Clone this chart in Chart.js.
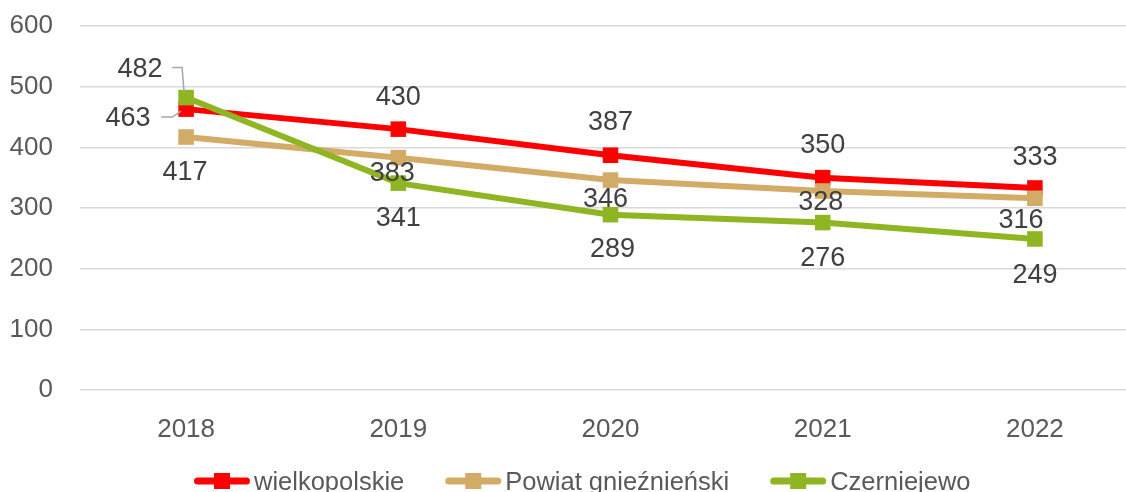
<!DOCTYPE html>
<html lang="pl">
<head>
    <meta charset="UTF-8">
    <title>Wykres</title>
    <script src="https://cdn.jsdelivr.net/npm/chart.js"></script>
    <style>
        html, body { margin: 0; padding: 0; overflow: hidden; background: #fff; }
        #wrap { width: 1152px; height: 492px; position: relative; }
    </style>
</head>
<body>
<div id="wrap"><canvas id="wykres"></canvas></div>

<script>
    // dane
    const lata = ['2018', '2019', '2020', '2021', '2022'];
    const wielkopolskie = [463, 430, 387, 350, 333];
    const powiatGnieznienski = [417, 383, 346, 328, 316];
    const czerniejewo = [482, 341, 289, 276, 249];
    const nazwySerii = ['wielkopolskie', 'Powiat gnieźnieński', 'Czerniejewo'];
    const yMin = 0, yMax = 600, yKrok = 100;

    const kolory = ['#FF0000', '#D2AB66', '#8FB523'];
    const czcionka = '"Liberation Sans", Arial, sans-serif';

    // przesunięcia etykiet danych względem punktów (styl)
    const przesuniecia = [
        { dx: [-58, 0, 0, 0, 0], dy: [9, -32, -33, -32, -30] },
        { dx: [-1, -6, -5, -2, -14], dy: [36, 16, 19, 12, 22] },
        { dx: [-46, 0, 2, 0, 0], dy: [-28, 35, 35, 36, 37] }
    ];
    // linie odniesienia: [seria, punkt, [[dx,dy],...]]
    const linieOdniesienia = [
        [0, 0, [[-25, 8], [-14, 8], [-5, 2]]],
        [2, 0, [[-14, -30], [-4, -30], [-2, -5]]]
    ];

    const etykietyPlugin = {
        id: 'etykiety',
        afterDatasetsDraw(chart) {
            const ctx = chart.ctx;
            ctx.save();
            ctx.strokeStyle = '#A6A6A6';
            ctx.lineWidth = 1.5;
            linieOdniesienia.forEach(([s, p, pkt]) => {
                const el = chart.getDatasetMeta(s).data[p];
                ctx.beginPath();
                pkt.forEach(([dx, dy], k) => {
                    if (k === 0) ctx.moveTo(el.x + dx, el.y + dy);
                    else ctx.lineTo(el.x + dx, el.y + dy);
                });
                ctx.stroke();
            });
            ctx.font = '27px ' + czcionka;
            ctx.fillStyle = '#404040';
            ctx.textAlign = 'center';
            ctx.textBaseline = 'middle';
            chart.data.datasets.forEach((ds, i) => {
                const meta = chart.getDatasetMeta(i);
                meta.data.forEach((el, j) => {
                    const o = przesuniecia[i];
                    ctx.fillText(String(ds.data[j]), el.x + o.dx[j], el.y + o.dy[j]);
                });
            });
            ctx.restore();
        }
    };

    // legenda na dole (częściowo ucięta, jak w oryginale)
    const legendaPlugin = {
        id: 'legenda',
        afterDraw(chart) {
            const ctx = chart.ctx;
            let x = 194;
            const yLinia = 481;
            ctx.save();
            ctx.font = '25.5px ' + czcionka;
            ctx.textBaseline = 'alphabetic';
            ctx.textAlign = 'left';
            chart.data.datasets.forEach((ds) => {
                ctx.strokeStyle = ds.borderColor;
                ctx.lineWidth = 7;
                ctx.lineCap = 'round';
                ctx.beginPath();
                ctx.moveTo(x + 3.5, yLinia);
                ctx.lineTo(x + 52.5, yLinia);
                ctx.stroke();
                ctx.fillStyle = ds.borderColor;
                ctx.fillRect(x + 20, yLinia - 8, 16, 16);
                const tx = x + 60;
                ctx.fillStyle = '#595959';
                ctx.fillText(ds.label, tx, 490);
                x = tx + ctx.measureText(ds.label).width + 41;
            });
            ctx.restore();
        }
    };

    const zestawy = [wielkopolskie, powiatGnieznienski, czerniejewo].map((dane, i) => ({
        label: nazwySerii[i],
        data: dane,
        order: 2 - i,
        borderColor: kolory[i],
        backgroundColor: kolory[i],
        borderWidth: 6,
        pointStyle: 'rect',
        pointRadius: 11,
        pointHoverRadius: 11,
        pointBorderWidth: 0,
        tension: 0
    }));

    new Chart(document.getElementById('wykres'), {
        type: 'line',
        data: { labels: lata, datasets: zestawy },
        options: {
            responsive: true,
            maintainAspectRatio: false,
            animation: false,
            layout: { padding: { top: 26, right: 5, left: 0, bottom: 0 } },
            plugins: {
                legend: { display: false },
                tooltip: { enabled: false }
            },
            scales: {
                x: {
                    offset: true,
                    grid: { display: false, drawTicks: false },
                    border: { display: false },
                    ticks: {
                        color: '#595959',
                        padding: 24,
                        font: { size: 26, family: czcionka }
                    },
                    afterFit(scale) {
                        scale.height = 102;
                        scale.paddingLeft = 0;
                        scale.paddingRight = 0;
                    }
                },
                y: {
                    min: yMin,
                    max: yMax,
                    ticks: {
                        stepSize: yKrok,
                        color: '#595959',
                        padding: 27,
                        font: { size: 26, family: czcionka }
                    },
                    grid: { color: '#D9D9D9', lineWidth: 1.5, drawTicks: false },
                    border: { display: false },
                    afterFit(scale) {
                        scale.width = 80;
                        scale.paddingTop = 0;
                        scale.paddingBottom = 0;
                    }
                }
            }
        },
        plugins: [etykietyPlugin, legendaPlugin]
    });
</script>
</body>
</html>
